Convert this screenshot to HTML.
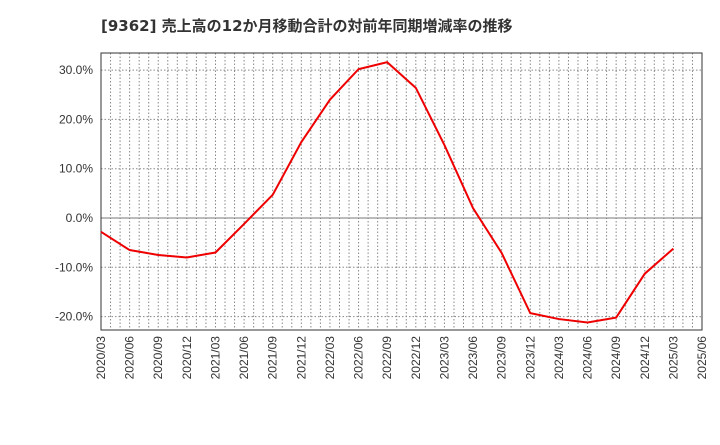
<!DOCTYPE html>
<html><head><meta charset="utf-8"><style>
body{margin:0;background:#fff;font-family:"Liberation Sans","Noto Sans CJK JP",sans-serif}
</style></head><body>
<svg id="c" width="720" height="440" xmlns="http://www.w3.org/2000/svg">
<text x="101" y="31" font-size="15" font-weight="bold" fill="#333" font-family="DejaVu Sans, Noto Sans CJK JP, sans-serif">[9362]  売上高の12か月移動合計の対前年同期増減率の推移</text>
</svg>
<script>
const categories=["2020/03","2020/06","2020/09","2020/12","2021/03","2021/06","2021/09","2021/12","2022/03","2022/06","2022/09","2022/12","2023/03","2023/06","2023/09","2023/12","2024/03","2024/06","2024/09","2024/12","2025/03","2025/06"];
const values=[-2.8,-6.5,-7.5,-8.0,-7.0,-1.2,4.7,15.4,24.0,30.2,31.6,26.4,14.8,2.0,-7.1,-19.3,-20.5,-21.2,-20.2,-11.3,-6.2];
const yTicks=[-20,-10,0,10,20,30];
const L=101,R=702,T=53,B=330;
const x=i=>L+i*(R-L)/(categories.length-1);
const y=v=>218-v*4.93;
const svg=document.getElementById('c');
const NS='http://www.w3.org/2000/svg';
function mk(t,a){const e=document.createElementNS(NS,t);for(const k in a)e.setAttribute(k,a[k]);svg.appendChild(e);return e;}
for(let m=1;m<(categories.length-1)*3;m++){
 const xx=L+m*(R-L)/((categories.length-1)*3);
 const g=mk('line',{x1:xx,x2:xx,y1:T,y2:B,stroke:'#888','stroke-dasharray':'1.5,2','stroke-width':1});
 
 
}
yTicks.forEach(v=>{
 const g=mk('line',{x1:L,x2:R,y1:y(v),y2:y(v),stroke:v===0?'#777':'#888','stroke-dasharray':v===0?'none':'1.5,2','stroke-width':1});
 
 
 const t=mk('text',{x:L-8,y:y(v)+4,'text-anchor':'end','font-size':12,fill:'#333'});
 t.textContent=v.toFixed(1)+'%';
 
 
});
const fr=mk('rect',{x:L,y:T,width:R-L,height:B-T,fill:'none',stroke:'#333','stroke-width':1});


categories.forEach((c,i)=>{
 const t=mk('text',{transform:`translate(${x(i)+4},${B+6}) rotate(-90)`,'text-anchor':'end','font-size':12,fill:'#333'});
 t.textContent=c;
 
 
});
const p=mk('polyline',{points:values.map((v,i)=>x(i)+','+y(v)).join(' '),fill:'none',stroke:'#ee0000','stroke-width':2});


</script>
</body></html>
